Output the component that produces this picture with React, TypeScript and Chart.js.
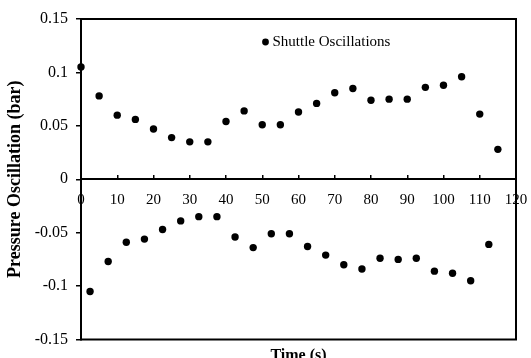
import React, { useEffect, useRef } from "react";
import { Chart, registerables } from "chart.js";

Chart.register(...registerables);

// Positive half-cycle readings (time in s, pressure in bar)
const posTime = [0, 5, 10, 15, 20, 25, 30, 35, 40, 45, 50, 55, 60, 65, 70, 75, 80, 85, 90, 95, 100, 105, 110, 115];
const posPressure = [0.105, 0.078, 0.060, 0.056, 0.047, 0.039, 0.035, 0.035, 0.054, 0.064, 0.051, 0.051, 0.063, 0.071, 0.081, 0.085, 0.074, 0.075, 0.075, 0.086, 0.088, 0.096, 0.061, 0.028];

// Negative half-cycle readings
const negTime = [2.5, 7.5, 12.5, 17.5, 22.5, 27.5, 32.5, 37.5, 42.5, 47.5, 52.5, 57.5, 62.5, 67.5, 72.5, 77.5, 82.5, 87.5, 92.5, 97.5, 102.5, 107.5, 112.5];
const negPressure = [-0.105, -0.077, -0.059, -0.056, -0.047, -0.039, -0.035, -0.035, -0.054, -0.064, -0.051, -0.051, -0.063, -0.071, -0.080, -0.084, -0.074, -0.075, -0.074, -0.086, -0.088, -0.095, -0.061];

const seriesLabel = "Shuttle Oscillations";
const xTitle = "Time (s)";
const yTitle = "Pressure Oscillation (bar)";
const xMin = 0, xMax = 120, xStep = 10;
const yMin = -0.15, yMax = 0.15, yStep = 0.05;

const SERIF = '"Liberation Serif", "Times New Roman", serif';

const decor = {
  id: "decor",
  beforeDatasetsDraw(chart: any) {
    const { ctx, chartArea: a } = chart;
    ctx.save();
    ctx.strokeStyle = "#000";
    ctx.lineWidth = 2;
    ctx.strokeRect(a.left, a.top, a.right - a.left, a.bottom - a.top);
    ctx.restore();
  },
  afterDraw(chart: any) {
    const { ctx, chartArea: a } = chart;
    ctx.save();
    // legend (inside plot)
    const lx = 265.5, ly = 42;
    ctx.fillStyle = "#000";
    ctx.beginPath();
    ctx.arc(lx, ly, 3.4, 0, Math.PI * 2);
    ctx.fill();
    ctx.font = `15px ${SERIF}`;
    ctx.textAlign = "left";
    ctx.textBaseline = "middle";
    ctx.fillText(chart.data.datasets[0].label, lx + 7, ly);
    // x axis title at the bottom
    ctx.font = `bold 16px ${SERIF}`;
    ctx.textAlign = "center";
    ctx.textBaseline = "alphabetic";
    ctx.fillText(xTitle, (a.left + a.right) / 2, 360);
    ctx.restore();
  },
};

export default function App() {
  const ref = useRef<HTMLCanvasElement>(null);
  useEffect(() => {
    if (!ref.current) return;
    const points = [
      ...posTime.map((t, i) => ({ x: t, y: posPressure[i] })),
      ...negTime.map((t, i) => ({ x: t, y: negPressure[i] })),
    ];
    const chart = new Chart(ref.current, {
      type: "scatter",
      data: {
        datasets: [
          {
            label: seriesLabel,
            data: points,
            backgroundColor: "#000",
            borderColor: "#000",
            borderWidth: 0,
            pointRadius: 3.7,
            clip: false as any,
          },
        ],
      },
      options: {
        responsive: false,
        animation: false,
        devicePixelRatio: 1,
        layout: { padding: { top: 19, right: 15, bottom: 18.5, left: 0 } },
        plugins: {
          legend: { display: false },
          tooltip: { enabled: false },
        },
        scales: {
          x: {
            type: "linear",
            position: { y: 0 } as any,
            min: xMin,
            max: xMax,
            border: { display: true, color: "#000", width: 2 },
            grid: { display: true, drawOnChartArea: false, drawTicks: true, tickLength: -5, color: "#000", lineWidth: 1.5 },
            ticks: {
              stepSize: xStep,
              maxRotation: 0,
              autoSkip: false,
              padding: 17,
              color: "#000",
              font: { family: SERIF, size: 15 },
            },
            afterFit: (scale: any) => {
              scale.paddingRight = 0;
              scale.paddingLeft = 0;
            },
          },
          y: {
            type: "linear",
            position: "left",
            min: yMin,
            max: yMax,
            border: { display: true, color: "#000", width: 2 },
            grid: { display: true, drawOnChartArea: false, drawTicks: true, tickLength: 5, color: "#000", lineWidth: 1.5 },
            ticks: {
              stepSize: yStep,
              padding: 8,
              color: "#000",
              font: { family: SERIF, size: 16 },
              callback: (v: any) => String(parseFloat(Number(v).toFixed(2))),
            },
            title: {
              display: true,
              text: yTitle,
              color: "#000",
              padding: { top: 5, bottom: 0 },
              font: { family: SERIF, size: 18, weight: "bold" },
            },
            afterFit: (scale: any) => {
              scale.width = 81;
            },
          },
        },
      },
      plugins: [decor],
    });
    return () => chart.destroy();
  }, []);
  return (
    <div style={{ position: "absolute", left: 0, top: 0, width: 531, height: 358, background: "#fff" }}>
      <canvas ref={ref} width={531} height={358} style={{ width: 531, height: 358, display: "block" }} />
    </div>
  );
}
